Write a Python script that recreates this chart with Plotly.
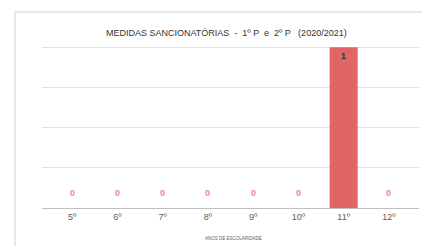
import plotly.graph_objects as go

categories = ["5º", "6º", "7º", "8º", "9º", "10º", "11º", "12º"]
values = [0, 0, 0, 0, 0, 0, 1, 0]
title_text = "MEDIDAS SANCIONATÓRIAS  -  1º P  e  2º P   (2020/2021)"
x_title = "ANOS DE ESCOLARIDADE"

BAR = "#E06666"
LBL0 = "#F08A8A"

# page body has an 8px margin; figure sized so plot lands where reference has it
W, H = 422, 238
L, T, R, B = 34, 38, 11, 38
PH = H - T - B
PW = W - L - R

fig = go.Figure()
fig.add_trace(go.Bar(
    x=list(range(len(categories))), y=values,
    marker=dict(color=BAR, line=dict(width=0)),
    width=0.62, hoverinfo="skip",
))

annotations = []
for i, v in enumerate(values):
    if v > 0:
        annotations.append(dict(x=i, y=v, xref="x", yref="y", text="<b>%d</b>" % v,
                                showarrow=False, yanchor="top", yshift=-2,
                                font=dict(size=9, color="#333333", family="Liberation Sans")))
    else:
        annotations.append(dict(x=i, y=v, xref="x", yref="y", text="<b>%d</b>" % v,
                                showarrow=False, yanchor="middle", yshift=15,
                                font=dict(size=9, color=LBL0, family="Liberation Sans")))

annotations.append(dict(x=0.5, y=1.0 + 13/PH, xref="paper", yref="paper", text=title_text,
                        showarrow=False, xanchor="center", yanchor="middle", xshift=-4,
                        font=dict(size=9, color="#333333", family="Liberation Sans")))
annotations.append(dict(x=0.5, y=-30/PH, xref="paper", yref="paper", text=x_title,
                        showarrow=False, xanchor="center", yanchor="middle", xshift=3,
                        font=dict(size=4.5, color="#606060", family="Liberation Sans")))

fig.update_layout(
    width=W, height=H,
    margin=dict(l=L, r=R, t=T, b=B),
    paper_bgcolor="white", plot_bgcolor="white",
    showlegend=False,
    annotations=annotations,
    shapes=[dict(type="rect", xref="paper", yref="paper",
                 x0=(7-L)/PW, x1=(W+20-L)/PW, y0=-0.6, y1=(T+PH-4)/PH,
                 line=dict(color="#D0D0D0", width=1), layer="below")],
    xaxis=dict(range=[-0.665, 7.665], tickmode="array",
               tickvals=list(range(len(categories))), ticktext=categories,
               showgrid=False, zeroline=False, showline=True, linecolor="#BFBFBF", linewidth=1,
               ticks="", tickfont=dict(size=9, color="#606060", family="Liberation Sans")),
    yaxis=dict(range=[0, 1.008], tickvals=[0.25, 0.5, 0.75, 1.0], showticklabels=False,
               showgrid=True, gridcolor="#E3E3E3", gridwidth=1, zeroline=False, showline=False),
)

fig.write_html("out.html")
